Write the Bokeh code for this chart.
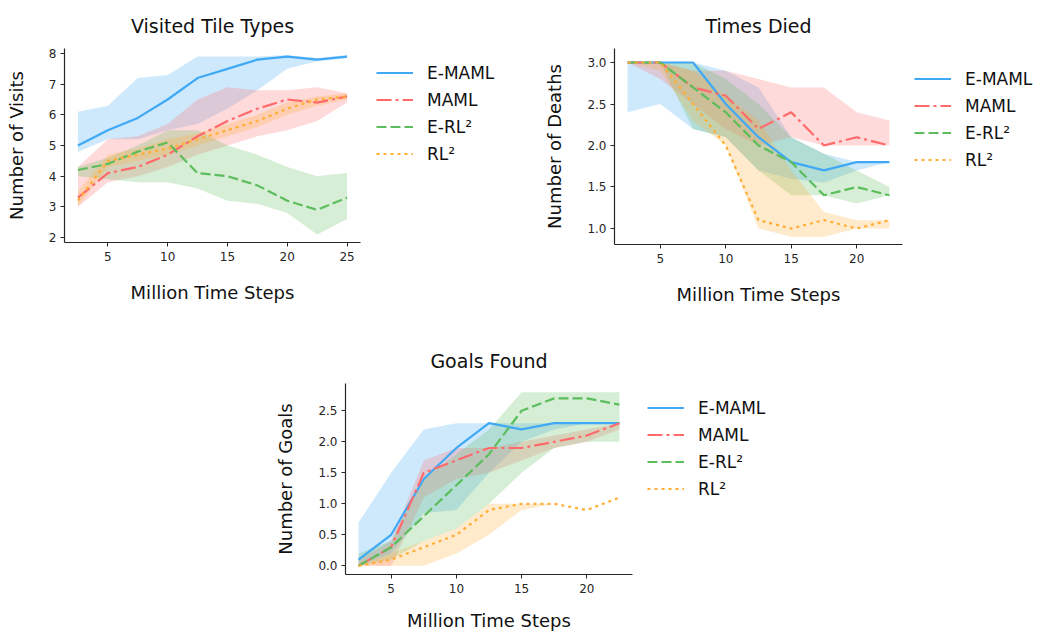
from bokeh.plotting import figure
from bokeh.models import Legend, LegendItem, Range1d, FixedTicker, Spacer, PrintfTickFormatter
from bokeh.layouts import row, column
from bokeh.embed import file_html
from bokeh.resources import INLINE

# ---------------- data ----------------
series_names = ["E-MAML", "MAML", "E-RL\u00b2", "RL\u00b2"]

steps_tiles = [2.5, 5, 7.5, 10, 12.5, 15, 17.5, 20, 22.5, 25]
tiles_emaml = [5.0, 5.5, 5.9, 6.5, 7.2, 7.5, 7.8, 7.9, 7.8, 7.9]
tiles_emaml_lo = [4.8, 5.2, 5.2, 5.5, 5.7, 6.2, 6.8, 7.5, 7.75, 7.85]
tiles_emaml_hi = [6.1, 6.3, 7.2, 7.3, 7.9, 7.9, 7.9, 7.95, 7.85, 7.95]
tiles_maml = [3.3, 4.1, 4.3, 4.7, 5.3, 5.8, 6.2, 6.5, 6.4, 6.6]
tiles_maml_lo = [3.0, 3.8, 4.0, 4.3, 4.7, 5.0, 5.3, 5.5, 5.8, 6.4]
tiles_maml_hi = [4.3, 5.2, 5.3, 5.7, 6.5, 6.9, 6.8, 6.8, 6.9, 6.7]
tiles_erl2 = [4.2, 4.4, 4.8, 5.1, 4.1, 4.0, 3.7, 3.2, 2.9, 3.3]
tiles_erl2_lo = [4.0, 3.9, 3.8, 3.8, 3.6, 3.2, 3.1, 2.8, 2.1, 2.6]
tiles_erl2_hi = [4.3, 4.6, 5.0, 5.5, 5.5, 5.0, 4.7, 4.3, 4.0, 4.1]
tiles_rl2 = [3.2, 4.5, 4.7, 4.9, 5.2, 5.5, 5.8, 6.2, 6.5, 6.6]
tiles_rl2_lo = [3.0, 4.3, 4.5, 4.7, 5.0, 5.3, 5.6, 6.0, 6.3, 6.5]
tiles_rl2_hi = [3.5, 4.7, 4.9, 5.2, 5.4, 5.7, 6.0, 6.4, 6.6, 6.7]

steps_short = [2.5, 5, 7.5, 10, 12.5, 15, 17.5, 20, 22.5]
died_emaml = [3.0, 3.0, 3.0, 2.5, 2.1, 1.8, 1.7, 1.8, 1.8]
died_emaml_lo = [2.4, 2.5, 2.2, 2.1, 1.7, 1.6, 1.55, 1.7, 1.8]
died_emaml_hi = [3.0, 3.0, 3.0, 2.9, 2.7, 2.1, 1.9, 1.8, 1.8]
died_maml = [3.0, 3.0, 2.7, 2.6, 2.2, 2.4, 2.0, 2.1, 2.0]
died_maml_lo = [3.0, 2.8, 2.5, 2.2, 2.0, 2.1, 2.0, 2.0, 2.0]
died_maml_hi = [3.0, 3.0, 2.9, 2.9, 2.8, 2.7, 2.7, 2.4, 2.3]
died_erl2 = [3.0, 3.0, 2.7, 2.4, 2.0, 1.8, 1.4, 1.5, 1.4]
died_erl2_lo = [3.0, 3.0, 2.2, 2.1, 1.7, 1.4, 1.4, 1.3, 1.4]
died_erl2_hi = [3.0, 3.0, 3.0, 2.8, 2.5, 2.1, 1.9, 1.7, 1.5]
died_rl2 = [3.0, 3.0, 2.5, 2.0, 1.1, 1.0, 1.1, 1.0, 1.1]
died_rl2_lo = [3.0, 2.9, 2.3, 2.0, 1.0, 0.9, 0.9, 1.0, 1.0]
died_rl2_hi = [3.0, 3.0, 2.9, 2.6, 2.3, 1.7, 1.2, 1.1, 1.1]

goals_emaml = [0.1, 0.5, 1.4, 1.9, 2.3, 2.2, 2.3, 2.3, 2.3]
goals_emaml_lo = [0.0, 0.2, 0.85, 0.9, 1.5, 2.0, 2.2, 2.3, 2.3]
goals_emaml_hi = [0.7, 1.5, 2.2, 2.3, 2.3, 2.3, 2.3, 2.3, 2.3]
goals_maml = [0.0, 0.3, 1.5, 1.7, 1.9, 1.9, 2.0, 2.1, 2.3]
goals_maml_lo = [0.0, 0.0, 1.1, 1.4, 1.5, 1.7, 1.9, 2.0, 2.2]
goals_maml_hi = [0.1, 0.4, 1.7, 1.9, 1.9, 2.0, 2.1, 2.2, 2.3]
goals_erl2 = [0.0, 0.3, 0.8, 1.3, 1.8, 2.5, 2.7, 2.7, 2.6]
goals_erl2_lo = [0.0, 0.1, 0.4, 0.6, 1.0, 1.5, 1.9, 2.0, 2.0]
goals_erl2_hi = [0.2, 0.4, 1.4, 1.8, 2.2, 2.8, 2.8, 2.8, 2.8]
goals_rl2 = [0.0, 0.1, 0.3, 0.5, 0.9, 1.0, 1.0, 0.9, 1.1]
goals_rl2_lo = [0.0, 0.0, 0.0, 0.2, 0.5, 0.9, 1.0, 0.9, 1.1]
goals_rl2_hi = [0.0, 0.2, 0.4, 0.6, 1.0, 1.0, 1.0, 0.9, 1.1]

# ---------------- styles ----------------
COLORS = ["#3fa9f5", "#ff6b6b", "#5cbd5c", "#ffad33"]
DASHES = ["solid", "15 4 3 4", "10 4", "3 4"]
FONT = "DejaVu Sans"
AXIS_COLOR = "#262626"
LINE_W = 2.2


def make_panel(title, ylabel, x, lines, bands, xr, yr, xticks, yticks, yfmt,
               frame_w, frame_h, bl, br, bt, bb, xlab_standoff=18):
    p = figure(frame_width=frame_w, frame_height=frame_h,
               min_border_left=bl, min_border_right=br,
               min_border_top=bt, min_border_bottom=bb,
               x_range=Range1d(*xr), y_range=Range1d(*yr),
               output_backend="svg", toolbar_location=None,
               title=title)
    p.outline_line_color = None
    p.grid.visible = False
    p.background_fill_color = "white"
    p.border_fill_color = "white"
    p.title.align = "center"
    p.title.text_font = FONT
    p.title.text_font_size = "19px"
    p.title.text_font_style = "normal"
    p.title.text_color = "#111111"
    p.title.standoff = 23

    for ax in (p.xaxis[0], p.yaxis[0]):
        ax.axis_line_color = AXIS_COLOR
        ax.axis_line_width = 1.2
        ax.major_tick_line_color = AXIS_COLOR
        ax.major_tick_out = 4
        ax.major_tick_in = 0
        ax.minor_tick_line_color = None
        ax.major_label_text_font = FONT
        ax.major_label_text_font_size = "12px"
        ax.major_label_text_color = "#262626"
        ax.axis_label_text_font = FONT
        ax.axis_label_text_font_size = "18px"
        ax.axis_label_text_font_style = "normal"
        ax.axis_label_text_color = "#111111"
    p.xaxis.axis_label = "Million Time Steps"
    p.yaxis.axis_label = ylabel
    p.xaxis.ticker = FixedTicker(ticks=xticks)
    p.yaxis.ticker = FixedTicker(ticks=yticks)
    p.yaxis.formatter = PrintfTickFormatter(format=yfmt)
    p.xaxis.major_label_standoff = 5
    p.yaxis.major_label_standoff = 4
    p.xaxis.axis_label_standoff = xlab_standoff
    p.yaxis.axis_label_standoff = 19

    for (lo, hi), c in zip(bands, COLORS):
        p.varea(x=x, y1=lo, y2=hi, fill_color=c, fill_alpha=0.25)

    for y, c, d in zip(lines, COLORS, DASHES):
        p.line(x, y, line_color=c, line_width=LINE_W, line_dash=d, line_cap="butt")
    return p


def make_legend(frame_w, frame_h, bt, bb, vx, vy):
    lp = figure(frame_width=frame_w, frame_height=frame_h,
                min_border_left=0, min_border_right=0,
                min_border_top=bt, min_border_bottom=bb,
                x_axis_type=None, y_axis_type=None,
                x_range=Range1d(0, 1), y_range=Range1d(0, 1),
                output_backend="svg", toolbar_location=None)
    lp.outline_line_color = None
    lp.grid.visible = False
    lp.background_fill_color = "white"
    lp.border_fill_color = "white"
    items = []
    for name, c, d in zip(series_names, COLORS, DASHES):
        # two points far outside the visible range: only the legend glyph shows
        r = lp.line([-10, -9], [-10, -9], line_color=c, line_width=LINE_W,
                    line_dash=d, line_cap="butt")
        items.append(LegendItem(label=name, renderers=[r]))
    leg = Legend(items=items, location=(vx, vy), margin=0, padding=0,
                 spacing=6, label_height=21, glyph_height=21, glyph_width=37,
                 label_standoff=14, border_line_color=None,
                 background_fill_alpha=0.0,
                 label_text_font=FONT, label_text_font_size="17px",
                 label_text_color="#111111")
    lp.add_layout(leg, "center")
    return lp


p1 = make_panel("Visited Tile Types", "Number of Visits", steps_tiles,
                [tiles_emaml, tiles_maml, tiles_erl2, tiles_rl2],
                [(tiles_emaml_lo, tiles_emaml_hi), (tiles_maml_lo, tiles_maml_hi),
                 (tiles_erl2_lo, tiles_erl2_hi), (tiles_rl2_lo, tiles_rl2_hi)],
                (1.375, 26.125), (1.837, 8.163), [5, 10, 15, 20, 25], [2, 3, 4, 5, 6, 7, 8], "%d",
                296, 194, 64, 4, 48, 78)
l1 = make_legend(150, 194, 48, 78, 12, 78)

p2 = make_panel("Times Died", "Number of Deaths", steps_short,
                [died_emaml, died_maml, died_erl2, died_rl2],
                [(died_emaml_lo, died_emaml_hi), (died_maml_lo, died_maml_hi),
                 (died_erl2_lo, died_erl2_hi), (died_rl2_lo, died_rl2_hi)],
                (1.5, 23.5), (0.807, 3.169), [5, 10, 15, 20], [1.0, 1.5, 2.0, 2.5, 3.0], "%.1f",
                288, 196, 100, 4, 48, 78)
l2 = make_legend(138, 196, 48, 78, 8, 74)

p3 = make_panel("Goals Found", "Number of Goals", steps_short,
                [goals_emaml, goals_maml, goals_erl2, goals_rl2],
                [(goals_emaml_lo, goals_emaml_hi), (goals_maml_lo, goals_maml_hi),
                 (goals_erl2_lo, goals_erl2_hi), (goals_rl2_lo, goals_rl2_hi)],
                (1.5, 23.5), (-0.14, 2.94), [5, 10, 15, 20], [0.0, 0.5, 1.0, 1.5, 2.0, 2.5], "%.1f",
                287, 191, 75, 4, 61, 59, xlab_standoff=14)
l3 = make_legend(150, 191, 61, 59, 11, 75)

layout = column(row(p1, l1, p2, l2), row(Spacer(width=270, height=10), p3, l3))

open("out.html", "w").write(file_html(layout, INLINE))
